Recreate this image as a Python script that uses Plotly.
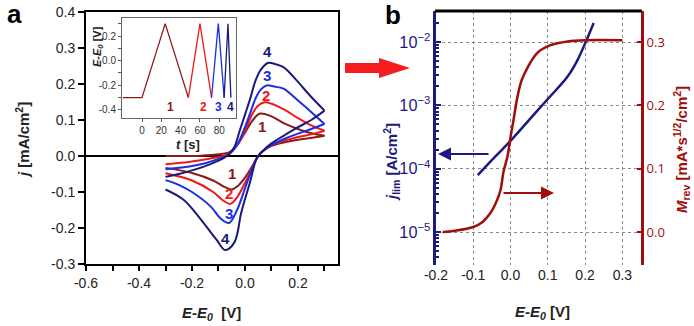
import plotly.graph_objects as go

# ---------------- data: panel a (cyclic voltammograms) ----------------
E1_fwd = [-0.3, -0.2, -0.15, -0.1, -0.06, -0.03, 0.0, 0.03, 0.057, 0.1, 0.15, 0.2, 0.25, 0.3]
j1_fwd = [0.0, 0.0, 0.002, 0.005, 0.01, 0.03, 0.065, 0.1, 0.118, 0.11, 0.09, 0.075, 0.063, 0.056]
E1_rev = [0.3, 0.25, 0.2, 0.15, 0.1, 0.07, 0.05, 0.03, 0.0, -0.03, -0.05, -0.08, -0.12, -0.2, -0.3]
j1_rev = [0.056, 0.05, 0.045, 0.038, 0.028, 0.015, 0.0, -0.025, -0.06, -0.085, -0.093, -0.085, -0.068, -0.047, -0.033]

E2_fwd = [-0.3, -0.2, -0.1, -0.06, -0.03, 0.0, 0.03, 0.05, 0.075, 0.1, 0.15, 0.2, 0.25, 0.3]
j2_fwd = [-0.023, -0.015, -0.003, 0.007, 0.03, 0.07, 0.12, 0.14, 0.149, 0.145, 0.128, 0.105, 0.085, 0.07]
E2_rev = [0.3, 0.25, 0.2, 0.15, 0.1, 0.07, 0.05, 0.03, 0.0, -0.03, -0.055, -0.08, -0.12, -0.2, -0.3]
j2_rev = [0.07, 0.06, 0.053, 0.043, 0.03, 0.015, 0.0, -0.03, -0.075, -0.115, -0.133, -0.125, -0.1, -0.068, -0.048]

E3_fwd = [-0.3, -0.2, -0.15, -0.1, -0.06, -0.03, 0.0, 0.02, 0.04, 0.06, 0.082, 0.11, 0.145, 0.2, 0.258, 0.3]
j3_fwd = [-0.037, -0.028, -0.02, -0.008, 0.005, 0.03, 0.08, 0.12, 0.16, 0.185, 0.196, 0.193, 0.187, 0.154, 0.117, 0.089]
E3_rev = [0.3, 0.25, 0.2, 0.15, 0.1, 0.07, 0.05, 0.03, 0.0, -0.03, -0.06, -0.09, -0.13, -0.2, -0.25, -0.3]
j3_rev = [0.089, 0.075, 0.062, 0.048, 0.03, 0.015, 0.0, -0.03, -0.09, -0.15, -0.186, -0.175, -0.14, -0.1, -0.08, -0.067]

E4_fwd = [-0.3, -0.25, -0.2, -0.15, -0.1, -0.06, -0.04, -0.02, 0.0, 0.02, 0.04, 0.06, 0.088, 0.11, 0.145, 0.195, 0.245, 0.3]
j4_fwd = [-0.058, -0.05, -0.04, -0.028, -0.013, 0.005, 0.025, 0.07, 0.115, 0.16, 0.21, 0.24, 0.259, 0.256, 0.247, 0.21, 0.168, 0.126]
E4_rev = [0.3, 0.25, 0.2, 0.15, 0.1, 0.07, 0.045, 0.02, 0.0, -0.015, -0.04, -0.075, -0.107, -0.17, -0.233, -0.3]
j4_rev = [0.126, 0.1, 0.08, 0.058, 0.035, 0.016, -0.005, -0.07, -0.12, -0.16, -0.24, -0.261, -0.233, -0.173, -0.121, -0.093]

# inset: potential programme
t_1 = [-20, 0, 24, 48]
Ein_1 = [-0.3, -0.3, 0.3, -0.3]
t_2 = [48, 60, 72]
Ein_2 = [-0.3, 0.3, -0.3]
t_3 = [72, 79, 85]
Ein_3 = [-0.3, 0.3, -0.3]
t_4 = [85, 89, 92]
Ein_4 = [-0.3, 0.3, -0.3]

# ---------------- data: panel b ----------------
jlim_E = [-0.088, -0.04, 0.0, 0.05, 0.1, 0.152, 0.179, 0.206, 0.223]
jlim = [7.9e-5, 1.58e-4, 2.75e-4, 5.9e-4, 1.26e-3, 2.8e-3, 5.1e-3, 1.15e-2, 2.0e-2]
Mrev_E = [-0.182, -0.15, -0.1, -0.075, -0.054, -0.04, -0.027, -0.019, -0.008, 0.0, 0.008,
          0.019, 0.03, 0.046, 0.072, 0.107, 0.153, 0.2, 0.3]
Mrev = [0.0, 0.002, 0.008, 0.016, 0.03, 0.045, 0.066, 0.095, 0.12, 0.15, 0.177,
        0.215, 0.24, 0.26, 0.283, 0.295, 0.301, 0.303, 0.303]

xa_ticks = [-0.6, -0.4, -0.2, 0.0, 0.2]
ya_ticks = [-0.3, -0.2, -0.1, 0.0, 0.1, 0.2, 0.3, 0.4]
xb_ticks = [-0.2, -0.1, 0.0, 0.1, 0.2, 0.3]
yb2_ticks = [0.0, 0.1, 0.2, 0.3]

C1, C2, C3, C4 = "#8b1a1a", "#f01818", "#1a2ee8", "#1a1a7a"
NAVY, DRED = "#1a1a80", "#a00d0d"
W, H = 694, 326


def X(px):
    return px / W


def Y(py):
    return 1 - py / H


fig = go.Figure()
for Ef, jf, Er, jr, c in [(E1_fwd, j1_fwd, E1_rev, j1_rev, C1), (E2_fwd, j2_fwd, E2_rev, j2_rev, C2),
                          (E3_fwd, j3_fwd, E3_rev, j3_rev, C3), (E4_fwd, j4_fwd, E4_rev, j4_rev, C4)]:
    for ex, jy in [(Ef, jf), (Er, jr)]:
        fig.add_trace(go.Scatter(x=ex, y=jy, mode="lines", line=dict(color=c, width=2, shape="spline", smoothing=1.0),
                                 xaxis="x", yaxis="y", showlegend=False, hoverinfo="skip"))

for tt, ee, c in [(t_1, Ein_1, C1), (t_2, Ein_2, C2), (t_3, Ein_3, C3), (t_4, Ein_4, C4)]:
    fig.add_trace(go.Scatter(x=tt, y=ee, mode="lines", line=dict(color=c, width=1.3),
                             xaxis="x3", yaxis="y3", showlegend=False, hoverinfo="skip"))

fig.add_trace(go.Scatter(x=jlim_E, y=jlim, mode="lines", line=dict(color=NAVY, width=2.5, shape="spline"),
                         xaxis="x2", yaxis="y2", showlegend=False, hoverinfo="skip"))
fig.add_trace(go.Scatter(x=Mrev_E, y=Mrev, mode="lines", line=dict(color=DRED, width=2.5, shape="spline"),
                         xaxis="x2", yaxis="y4", showlegend=False, hoverinfo="skip"))

font = "Liberation Sans, Arial, sans-serif"
fig.update_layout(
    width=W, height=H, margin=dict(l=0, r=0, t=0, b=0, autoexpand=False),
    paper_bgcolor="white", plot_bgcolor="rgba(0,0,0,0)",
    font=dict(family=font, size=14, color="#222"),
    xaxis=dict(domain=[X(86), X(338)], range=[-0.6, 0.351], anchor="y", automargin=False,
               tickvals=xa_ticks, ticktext=[f"{v:.1f}" for v in xa_ticks],
               ticks="outside", ticklen=5, tickwidth=1.5, tickcolor="black",
               minor=dict(dtick=0.1, tick0=0, ticks="outside", ticklen=5, tickwidth=1.5, tickcolor="black"),
               showline=True, linecolor="black", linewidth=2, mirror=True, showgrid=False, zeroline=False,
               tickfont=dict(size=14, color="#222")),
    yaxis=dict(domain=[Y(264), Y(12)], range=[-0.3, 0.4], anchor="x", automargin=False,
               tickvals=ya_ticks, ticktext=[f"{v:.1f}" for v in ya_ticks],
               ticks="outside", ticklen=6, tickwidth=1.5, tickcolor="black",
               showline=True, linecolor="black", linewidth=2, mirror=True, showgrid=False,
               zeroline=True, zerolinecolor="black", zerolinewidth=2,
               tickfont=dict(size=14, color="#222")),
    xaxis3=dict(domain=[X(122), X(236)], range=[-20.7, 97.3], anchor="y3", automargin=False,
                tickvals=[0, 20, 40, 60, 80], ticks="outside", ticklen=3, tickcolor="#555",
                showline=True, linecolor="#666", linewidth=1, mirror=True, showgrid=False, zeroline=False,
                tickfont=dict(size=10, color="#333")),
    yaxis3=dict(domain=[Y(118), Y(18)], range=[-0.465, 0.346], anchor="x3", automargin=False,
                tickvals=[-0.4, -0.2, 0.0, 0.2], ticktext=["-0.4", "-0.2", "0.0", "0.2"],
                ticks="outside", ticklen=3, tickcolor="#555",
                minor=dict(dtick=0.1, tick0=0, ticks="outside", ticklen=3, tickcolor="#555"),
                showline=True, linecolor="#666", linewidth=1, mirror=True, showgrid=False, zeroline=False,
                tickfont=dict(size=10, color="#333")),
    xaxis2=dict(domain=[X(436), X(641)], range=[-0.2, 0.35], anchor="y2", automargin=False,
                tickvals=xb_ticks, ticktext=[f"{v:.1f}" for v in xb_ticks],
                ticks="", showline=False, zeroline=False,
                showgrid=True, gridcolor="#888", griddash="dot", gridwidth=1,
                tickfont=dict(size=14, color="#222")),
    yaxis2=dict(domain=[Y(265), Y(11)], type="log", range=[-5.52, -1.51], anchor="x2", automargin=False,
                dtick=1, exponentformat="power", ticks="inside", ticklen=5, tickwidth=2, tickcolor=NAVY,
                minor=dict(ticks="inside", ticklen=3, tickwidth=1.5, tickcolor=NAVY, showgrid=False),
                showline=True, linecolor=NAVY, linewidth=3, zeroline=False,
                showgrid=True, gridcolor="#888", griddash="dot", gridwidth=1,
                tickfont=dict(size=13, color=NAVY)),
    yaxis4=dict(range=[-0.052, 0.349], overlaying="y2", side="right", anchor="x2", automargin=False,
                tickvals=yb2_ticks, ticktext=[f"{v:.1f}" for v in yb2_ticks],
                ticks="inside", ticklen=4, tickwidth=2, tickcolor=DRED,
                showline=True, linecolor=DRED, linewidth=3, showgrid=False, zeroline=False,
                tickfont=dict(size=13, color=DRED, family="Open Sans, sans-serif")),
)

shapes = [
    dict(type="line", xref="paper", yref="paper", x0=X(435), x1=X(642), y0=Y(11), y1=Y(11),
         line=dict(color="black", width=3)),
    dict(type="path", xref="paper", yref="paper", fillcolor="#f41c1c", line=dict(width=0),
         path=f"M {X(345)},{Y(63)} L {X(379)},{Y(63)} L {X(379)},{Y(58)} L {X(410)},{Y(68)} "
              f"L {X(379)},{Y(78)} L {X(379)},{Y(73)} L {X(345)},{Y(73)} Z"),
]
fig.update_layout(shapes=shapes)

ann = []


def txt(px, py, s, size, color="#111", angle=0, family=font, xanchor="center"):
    ann.append(dict(x=X(px), y=Y(py), xref="paper", yref="paper", text=s, showarrow=False,
                    font=dict(size=size, color=color, family=family), textangle=angle,
                    xanchor=xanchor, yanchor="middle"))


txt(14, 14, "<b>a</b>", 26, "black")
txt(393, 15, "<b>b</b>", 26, "black")
txt(22, 140, "<b><i>j</i> [mA/cm<sup>2</sup>]</b>", 15, "#222", angle=-90)
txt(212, 313, "<b><i>E-E<sub>0</sub></i>  [V]</b>", 15, "#222")
txt(542, 312, "<b><i>E-E<sub>0</sub></i> [V]</b>", 15, "#222")
txt(98, 47, "<b><i>E-E<sub>0</sub></i> [V]</b>", 11, "#222", angle=-90)
txt(188, 144, "<b><i>t</i> [s]</b>", 13, "#222")
txt(391, 162, "<b><i>j</i><sub>lim</sub> [A/cm<sup>2</sup>]</b>", 15, NAVY, angle=-90)
txt(681, 150, "<b><i>M</i><sub>rev</sub> [mA*s<sup>1/2</sup>/cm<sup>2</sup>]</b>", 15, DRED, angle=-90)
# curve labels
for px, py, s, c in [(267, 52, "4", C4), (267, 75, "3", C3), (266, 95, "2", C2), (262, 127, "1", C1),
                     (232, 173, "1", C1), (229, 193, "2", C2), (229, 213, "3", C3), (225, 238, "4", C4)]:
    txt(px, py, f"<b>{s}</b>", 15, c)
for px, py, s, c in [(170, 107, "1", C1), (203, 107, "2", C2), (218, 107, "3", C3), (230, 107, "4", C4)]:
    txt(px, py, f"<b>{s}</b>", 12, c)

# panel b arrows
ann.append(dict(x=X(438), y=Y(154), xref="paper", yref="paper", ax=52, ay=0, axref="pixel", ayref="pixel",
                showarrow=True, arrowhead=2, arrowsize=1.3, arrowwidth=2, arrowcolor=NAVY, text=""))
ann.append(dict(x=X(554), y=Y(193), xref="paper", yref="paper", ax=-52, ay=0, axref="pixel", ayref="pixel",
                showarrow=True, arrowhead=2, arrowsize=1.3, arrowwidth=2, arrowcolor=DRED, text=""))
fig.update_layout(annotations=ann)

fig.write_html("out.html", config={"displayModeBar": False},
               post_script="document.body.style.margin='0px';document.body.style.overflow='hidden';")
